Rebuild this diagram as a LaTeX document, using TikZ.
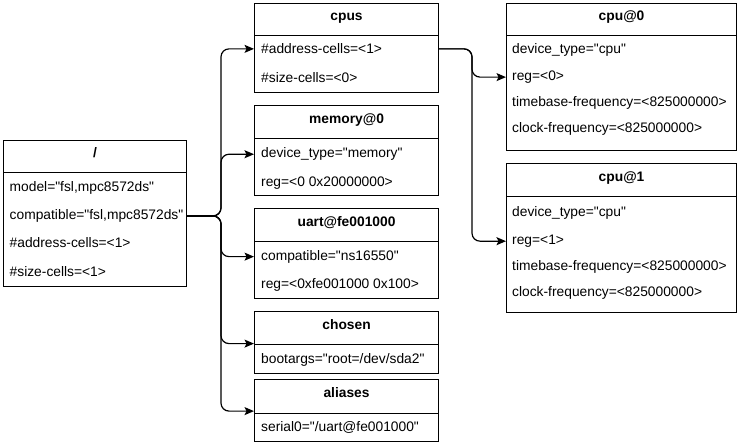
\documentclass[tikz,border=0pt]{standalone}
\usepackage{fontspec}
\setmainfont{Liberation Sans}[Ligatures=TeXOff]
\usetikzlibrary{arrows.meta}
\begin{document}
\begin{tikzpicture}[x=1pt,y=-1pt,
  every node/.style={font=\fontsize{13.8}{16}\selectfont},
  frame/.style={draw, line width=1.1pt, anchor=north west, inner sep=0pt},
  hdr/.style={frame, font=\fontsize{13.8}{16}\selectfont\bfseries, text height=8pt, text depth=6pt},
  prop/.style={anchor=base west, inner sep=0pt},
  link/.style={line width=1.2pt, rounded corners=8pt, -{Stealth[length=9.5pt,width=8pt,inset=2pt]}}]
\useasboundingbox (0,0) rectangle (739,444);

% root node "/"
\node[hdr, minimum width=183pt, minimum height=32pt] (root) at (3,140) {/};
\node[frame, minimum width=183pt, minimum height=114pt] (rootb) at (3,172) {};
\node[prop] (root1) at (9.5,191.2) {model="fsl,mpc8572ds"};
\node[prop] (root2) at (9.5,219.5) {compatible="fsl,mpc8572ds"};
\node[prop] (root3) at (9.5,247.8) {\#address-cells=<1>};
\node[prop] (root4) at (9.5,276.2) {\#size-cells=<1>};

% cpus
\node[hdr, minimum width=184pt, minimum height=32pt] (cpus) at (254,3) {cpus};
\node[frame, minimum width=184pt, minimum height=57pt] (cpusb) at (254,35) {};
\node[prop] (cpus1) at (261,53.8) {\#address-cells=<1>};
\node[prop] (cpus2) at (261,82.2) {\#size-cells=<0>};

% memory@0
\node[hdr, minimum width=184pt, minimum height=33pt] (mem) at (254,105) {memory@0};
\node[frame, minimum width=184pt, minimum height=57pt] (memb) at (254,138) {};
\node[prop] (mem1) at (261,157.8) {device\_type="memory"};
\node[prop] (mem2) at (261,186.2) {reg=<0 0x20000000>};

% uart@fe001000
\node[hdr, minimum width=184pt, minimum height=33pt] (uart) at (254,208) {uart@fe001000};
\node[frame, minimum width=184pt, minimum height=57pt] (uartb) at (254,241) {};
\node[prop] (uart1) at (261,260.2) {compatible="ns16550"};
\node[prop] (uart2) at (261,288.5) {reg=<0xfe001000 0x100>};

% chosen
\node[hdr, minimum width=184pt, minimum height=33pt] (chosen) at (254,311) {chosen};
\node[frame, minimum width=184pt, minimum height=29pt] (chosenb) at (254,344) {};
\node[prop] (chosen1) at (261,363.8) {bootargs="root=/dev/sda2"};

% aliases
\node[hdr, minimum width=184pt, minimum height=34pt] (aliases) at (254,379) {aliases};
\node[frame, minimum width=184pt, minimum height=28pt] (aliasesb) at (254,413) {};
\node[prop] (aliases1) at (261,431.8) {serial0="/uart@fe001000"};

% cpu@0
\node[hdr, minimum width=230pt, minimum height=32pt] (cpu0) at (506,3) {cpu@0};
\node[frame, minimum width=230pt, minimum height=115pt] (cpu0b) at (506,35) {};
\node[prop] (cpu01) at (512,53.8) {device\_type="cpu"};
\node[prop] (cpu02) at (512,80.5) {reg=<0>};
\node[prop] (cpu03) at (512,106.2) {timebase-frequency=<825000000>};
\node[prop] (cpu04) at (512,132.2) {clock-frequency=<825000000>};

% cpu@1
\node[hdr, minimum width=230pt, minimum height=33pt] (cpu1) at (506,163) {cpu@1};
\node[frame, minimum width=230pt, minimum height=116pt] (cpu1b) at (506,196) {};
\node[prop] (cpu11) at (512,216.2) {device\_type="cpu"};
\node[prop] (cpu12) at (512,244.5) {reg=<1>};
\node[prop] (cpu13) at (512,270.5) {timebase-frequency=<825000000>};
\node[prop] (cpu14) at (512,296.8) {clock-frequency=<825000000>};

% branching columns
\coordinate (trunk) at (221,0);
\coordinate (branch) at (472,0);

% root children
\draw[link] (rootb.east |- root2) -| (trunk |- cpus1) -- (cpusb.west |- cpus1);
\draw[link] (rootb.east |- root2) -| (trunk |- mem1) -- (memb.west |- mem1);
\draw[link] (rootb.east |- root2) -| (trunk |- uart1) -- (uartb.west |- uart1);
\draw[link] (rootb.east |- root2) -| ([yshift=1.5pt]trunk |- chosen.south) -- ([yshift=1.5pt]chosen.south west);
\draw[link] (rootb.east |- root2) -| ([yshift=3pt]trunk |- aliases.south) -- ([yshift=3pt]aliases.south west);

% cpus children
\draw[link] (cpusb.east |- cpus1) -| (branch |- cpu02) -- (cpu0b.west |- cpu02);
\draw[link] (cpusb.east |- cpus1) -| (branch |- cpu12) -- (cpu1b.west |- cpu12);
\end{tikzpicture}
\end{document}
